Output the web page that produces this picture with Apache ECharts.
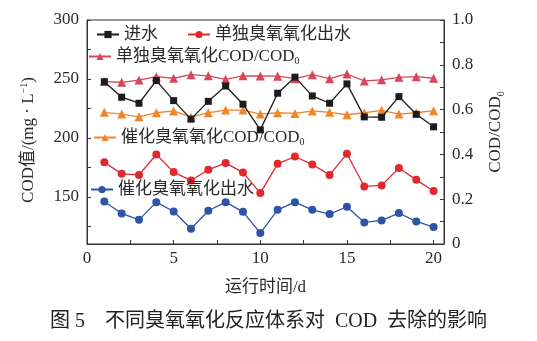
<!DOCTYPE html>
<html>
<head>
<meta charset="utf-8">
<script src="https://cdn.jsdelivr.net/npm/echarts@6/dist/echarts.min.js"></script>
<style>
html, body { margin: 0; padding: 0; background: #fff; }
#chart { width: 537px; height: 341px; }
</style>
</head>
<body>
<div id="chart"></div>
<script>
// Operating days
const days = [1, 2, 3, 4, 5, 6, 7, 8, 9, 10, 11, 12, 13, 14, 15, 16, 17, 18, 19, 20];

// COD values, mg/L (left axis)
const influent = [247.7, 234.5, 229.4, 248.6, 231.6, 215.9, 231.0, 244.0, 228.6, 206.8,
                  237.9, 251.5, 235.6, 229.4, 245.8, 217.8, 217.5, 235.0, 220.0, 209.4];
const ozoneEffluent = [179.4, 169.5, 168.6, 185.9, 171.0, 163.9, 173.0, 178.6, 170.7, 153.2,
                       178.0, 184.2, 177.4, 168.6, 186.5, 158.8, 159.7, 174.4, 164.4, 154.9];
const catalyticEffluent = [146.0, 135.9, 130.5, 145.5, 137.6, 123.0, 138.2, 145.5, 137.3, 119.3,
                           139.0, 145.5, 139.0, 135.4, 141.6, 128.3, 130.0, 136.2, 129.1, 124.4];

// COD/COD0 ratios (right axis)
const ozoneRatio = [0.725, 0.722, 0.732, 0.747, 0.740, 0.756, 0.751, 0.735, 0.751, 0.750,
                    0.749, 0.738, 0.756, 0.738, 0.759, 0.728, 0.733, 0.744, 0.747, 0.740];
const catalyticRatio = [0.588, 0.580, 0.568, 0.586, 0.594, 0.566, 0.586, 0.598, 0.598, 0.580,
                        0.586, 0.583, 0.594, 0.588, 0.577, 0.586, 0.597, 0.580, 0.586, 0.595];

// Tick positions
const xLabelTicks = [0, 5, 10, 15, 20];
const xAllTicks = [0, 2.5, 5, 7.5, 10, 12.5, 15, 17.5, 20];
const leftLabelTicks = [150, 200, 250, 300];
const leftAllTicks = [125, 150, 175, 200, 225, 250, 275, 300];
const rightLabelTicks = [0, 0.2, 0.4, 0.6, 0.8, 1.0];
const rightAllTicks = [0, 0.1, 0.2, 0.3, 0.4, 0.5, 0.6, 0.7, 0.8, 0.9, 1.0];

// Series names
const NAME_IN = '进水';
const NAME_OZ = '单独臭氧氧化出水';
const NAME_OZ_R = '单独臭氧氧化COD/COD0';
const NAME_CAT_R = '催化臭氧氧化COD/COD0';
const NAME_CAT = '催化臭氧氧化出水';

const FONT = '"Liberation Serif", "Times New Roman", "Noto Sans CJK SC", serif';
const TXT = '#2a2a2a';
const AXIS = '#333';

const C_BLACK = '#1c1c1c';
const C_RED = '#e2272f';
const C_PINK = '#d9455a';
const C_ORANGE = '#f0862a';
const C_BLUE = '#2f54a6';

const pair = (ys) => days.map((d, i) => [d, ys[i]]);

const richText = {
  m: { fontFamily: FONT, fontSize: 17, color: TXT, lineHeight: 20 },
  s: { fontFamily: FONT, fontSize: 10, color: TXT, lineHeight: 12, verticalAlign: 'bottom' }
};
const legendFormatter = (name) => {
  if (name.endsWith('COD0')) return '{m|' + name.slice(0, -1) + '}{s|0}';
  return '{m|' + name + '}';
};

function legendAt(name, left, top) {
  return {
    data: [name],
    left: left, top: top,
    itemWidth: 22, itemHeight: 9, itemGap: 0,
    padding: 0,
    formatter: legendFormatter,
    textStyle: { fontFamily: FONT, fontSize: 17, color: TXT, rich: richText }
  };
}

function lineSeries(name, data, color, symbol, size, yIndex, z) {
  return {
    name: name, type: 'line', yAxisIndex: yIndex, data: pair(data),
    symbol: symbol, symbolSize: size, z: z,
    lineStyle: { color: color, width: 1.3 },
    itemStyle: { color: color },
    emphasis: { disabled: true },
    animation: false
  };
}

const axisCommon = {
  axisLine: { show: true, lineStyle: { color: AXIS, width: 1 } },
  splitLine: { show: false }
};

const chart = echarts.init(document.getElementById('chart'), null, { renderer: 'canvas' });
chart.setOption({
  backgroundColor: '#fff',
  animation: false,
  grid: { left: 87, right: 93, top: 20, bottom: 97, show: true, borderColor: AXIS, borderWidth: 1 },
  legend: [
    legendAt(NAME_IN, 96, 26),
    legendAt(NAME_OZ, 187, 26),
    legendAt(NAME_OZ_R, 88, 48),
    legendAt(NAME_CAT_R, 93, 129),
    legendAt(NAME_CAT, 90, 181)
  ],
  xAxis: {
    type: 'value', min: 0, max: 20.6,
    ...axisCommon,
    axisTick: { inside: true, length: 4, customValues: xAllTicks, lineStyle: { color: AXIS } },
    axisLabel: { customValues: xLabelTicks, fontFamily: FONT, fontSize: 17, color: TXT, margin: 6 },
    name: '运行时间/d', nameLocation: 'middle', nameGap: 35,
    nameTextStyle: { fontFamily: FONT, fontSize: 17, color: TXT }
  },
  yAxis: [
    {
      type: 'value', min: 110, max: 300, position: 'left',
      ...axisCommon,
      axisTick: { inside: true, length: 4, customValues: leftAllTicks, lineStyle: { color: AXIS } },
      axisLabel: { customValues: leftLabelTicks, fontFamily: FONT, fontSize: 17, color: TXT, margin: 8 },
      name: '{m|COD值/(mg · L}{p|−1}{m|)}', nameLocation: 'middle', nameGap: 48, nameRotate: 90,
      nameTextStyle: {
        padding: [0, 0, 0, -16],
        rich: {
          m: { fontFamily: FONT, fontSize: 17, color: TXT, lineHeight: 20 },
          p: { fontFamily: FONT, fontSize: 10, color: TXT, lineHeight: 12, verticalAlign: 'top' }
        }
      }
    },
    {
      type: 'value', min: 0, max: 1, position: 'right',
      ...axisCommon,
      axisTick: { inside: true, length: 4, customValues: rightAllTicks, lineStyle: { color: AXIS } },
      axisLabel: {
        customValues: rightLabelTicks, fontFamily: FONT, fontSize: 17, color: TXT, margin: 8,
        formatter: (v) => (v === 0 ? '0' : v.toFixed(1))
      },
      name: '{m|COD/COD}{s|0}', nameLocation: 'middle', nameGap: 42, nameRotate: 90,
      nameTextStyle: { rich: richText }
    }
  ],
  series: [
    lineSeries(NAME_OZ_R, ozoneRatio, C_PINK, 'triangle', 9, 1, 2),
    lineSeries(NAME_CAT_R, catalyticRatio, C_ORANGE, 'triangle', 9, 1, 2),
    lineSeries(NAME_OZ, ozoneEffluent, C_RED, 'circle', 8, 0, 3),
    lineSeries(NAME_CAT, catalyticEffluent, C_BLUE, 'circle', 8, 0, 3),
    lineSeries(NAME_IN, influent, C_BLACK, 'rect', 7, 0, 4)
  ],
  graphic: [
    {
      type: 'text', left: 'center', top: 312,
      style: {
        text: '图 5　不同臭氧氧化反应体系对  COD  去除的影响',
        font: '20px ' + FONT, fill: '#222'
      }
    }
  ]
});
</script>
</body>
</html>
